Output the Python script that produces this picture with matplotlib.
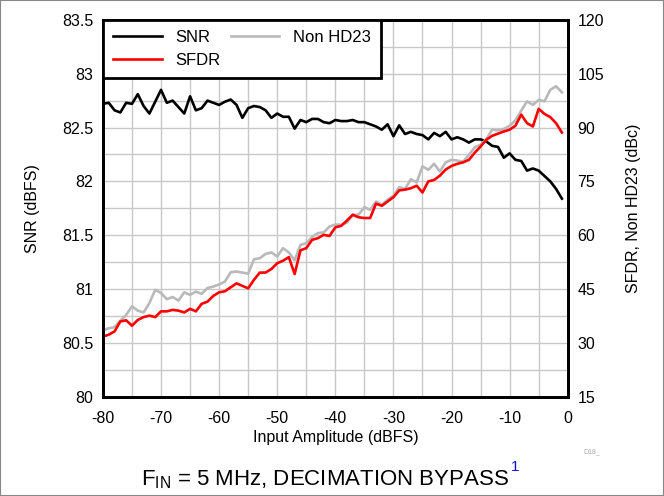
import numpy as np
import matplotlib
matplotlib.use("Agg")
import matplotlib.pyplot as plt
from matplotlib.ticker import MultipleLocator, FormatStrFormatter
from matplotlib.patches import Rectangle

plt.rcParams['font.family'] = ['Liberation Sans', 'DejaVu Sans']
plt.rcParams['mathtext.fontset'] = 'custom'
plt.rcParams['mathtext.rm'] = 'Liberation Sans'
plt.rcParams['axes.unicode_minus'] = False

# input amplitude, 1 dB steps
amp = list(range(-80, 0))

snr = [82.72, 82.73, 82.66, 82.64, 82.73, 82.72, 82.81, 82.70, 82.63, 82.74,
       82.85, 82.73, 82.75, 82.69, 82.63, 82.79, 82.66, 82.68, 82.75, 82.73,
       82.71, 82.74, 82.76, 82.71, 82.59, 82.68, 82.70, 82.69, 82.66, 82.59,
       82.63, 82.60, 82.60, 82.49, 82.57, 82.55, 82.58, 82.58, 82.55, 82.54,
       82.57, 82.56, 82.56, 82.57, 82.55, 82.55, 82.53, 82.51, 82.48, 82.53,
       82.42, 82.52, 82.44, 82.46, 82.44, 82.43, 82.39, 82.45, 82.42, 82.46,
       82.39, 82.41, 82.39, 82.36, 82.39, 82.39, 82.37, 82.33, 82.32, 82.22,
       82.26, 82.20, 82.19, 82.10, 82.12, 82.10, 82.05, 82.00, 81.93, 81.84]

sfdr = [31.8, 32.3, 33.2, 36.0, 36.3, 34.8, 36.4, 37.2, 37.6, 37.2,
        38.8, 38.8, 39.2, 39.0, 38.5, 39.5, 38.8, 40.9, 41.5, 43.1,
        44.1, 44.4, 45.5, 46.6, 45.9, 45.2, 47.6, 49.6, 49.6, 50.6,
        52.2, 52.9, 53.9, 49.2, 55.8, 56.4, 58.7, 59.2, 60.1, 59.8,
        62.2, 62.6, 64.1, 65.7, 65.0, 64.8, 64.8, 68.8, 68.2, 69.4,
        70.6, 72.5, 72.7, 73.1, 73.8, 71.9, 75.0, 75.4, 76.6, 78.3,
        79.3, 79.9, 80.3, 81.0, 83.0, 84.7, 86.6, 87.7, 88.3, 88.9,
        89.4, 90.5, 93.6, 91.2, 90.3, 95.2, 93.8, 92.9, 91.2, 88.6]

non_hd23 = [33.5, 34.1, 34.4, 36.2, 37.8, 40.2, 39.0, 38.5, 41.1, 44.8,
            43.9, 42.2, 42.8, 41.8, 44.1, 43.4, 44.3, 43.7, 45.3, 45.7,
            46.3, 47.1, 49.7, 49.9, 49.6, 49.3, 53.3, 53.6, 54.8, 55.2,
            54.1, 56.4, 55.2, 53.0, 57.3, 57.8, 59.5, 60.6, 60.8, 62.4,
            63.0, 62.9, 63.5, 65.7, 65.7, 67.8, 67.1, 69.4, 68.5, 69.9,
            71.0, 73.4, 72.9, 75.6, 74.7, 79.2, 78.2, 79.9, 77.8, 80.3,
            81.0, 80.8, 80.5, 82.4, 84.5, 85.2, 86.8, 89.4, 89.2, 89.6,
            90.5, 92.0, 94.7, 97.3, 96.3, 97.7, 97.3, 100.5, 101.5, 99.8]

fig = plt.figure(figsize=(6.64, 4.96), dpi=100)
ax = fig.add_axes([0.155, 0.2, 0.7, 0.76])
ax2 = ax.twinx()

grid_c = '#c8c8c8'
ax.set_xlim(-80, 0)
ax.set_ylim(80, 83.5)
ax.xaxis.set_major_locator(MultipleLocator(10))
ax.xaxis.set_minor_locator(MultipleLocator(5))
ax.yaxis.set_major_locator(MultipleLocator(0.5))
ax.yaxis.set_minor_locator(MultipleLocator(0.25))
ax.yaxis.set_major_formatter(FormatStrFormatter('%g'))
ax.grid(True, which='both', color=grid_c, lw=1.0)
ax.set_axisbelow(True)

ax2.set_ylim(15, 120)
ax2.yaxis.set_major_locator(MultipleLocator(15))

snr_line, = ax.plot(amp, snr, color='black', lw=1.9)
hd_line, = ax2.plot(amp, non_hd23, color='#b9b9b9', lw=1.9)
sfdr_line, = ax2.plot(amp, sfdr, color='#ff0000', lw=1.9)

for a in (ax, ax2):
    a.tick_params(which='both', length=0, labelsize=11.5, pad=7)
    for s in a.spines.values():
        s.set_linewidth(2)
        s.set_color('black')
ax.tick_params(axis='x', pad=10)

ax.set_xlabel('Input Amplitude (dBFS)', fontsize=11.5, labelpad=3)
ax.set_ylabel('SNR (dBFS)', fontsize=11.5, labelpad=16)
ax2.set_ylabel('SFDR, Non HD23 (dBc)', fontsize=11.5, labelpad=16)

leg = ax2.legend([snr_line, sfdr_line, hd_line], ['SNR', 'SFDR', 'Non HD23'],
                 ncol=2, loc='upper left', borderaxespad=0, fontsize=12,
                 frameon=True, fancybox=False, handlelength=2.9,
                 handletextpad=0.8, columnspacing=0.65, labelspacing=0.45,
                 borderpad=0.62)
leg.get_frame().set_edgecolor('black')
leg.get_frame().set_linewidth(2)
leg.get_frame().set_alpha(1)

fig.text(0.878, 0.089, 'D18_', fontsize=5, color='#aaaaaa', ha='left', va='center')

cap = fig.text(0.49, 0.022, r'F$_{\rm IN}$ = 5 MHz, DECIMATION BYPASS',
               fontsize=16, ha='center', va='baseline')
fig.canvas.draw()
bb = cap.get_window_extent()
x1 = bb.x1 / fig.bbox.width
fig.text(x1 + 0.003, 0.05, '1', fontsize=11, color='#1010d0', ha='left', va='baseline')

fig.patches.append(Rectangle((0, 0), 1, 1, transform=fig.transFigure, fill=False,
                             edgecolor='#888888', lw=1.5, clip_on=False))

fig.savefig('out.png', dpi=100)
